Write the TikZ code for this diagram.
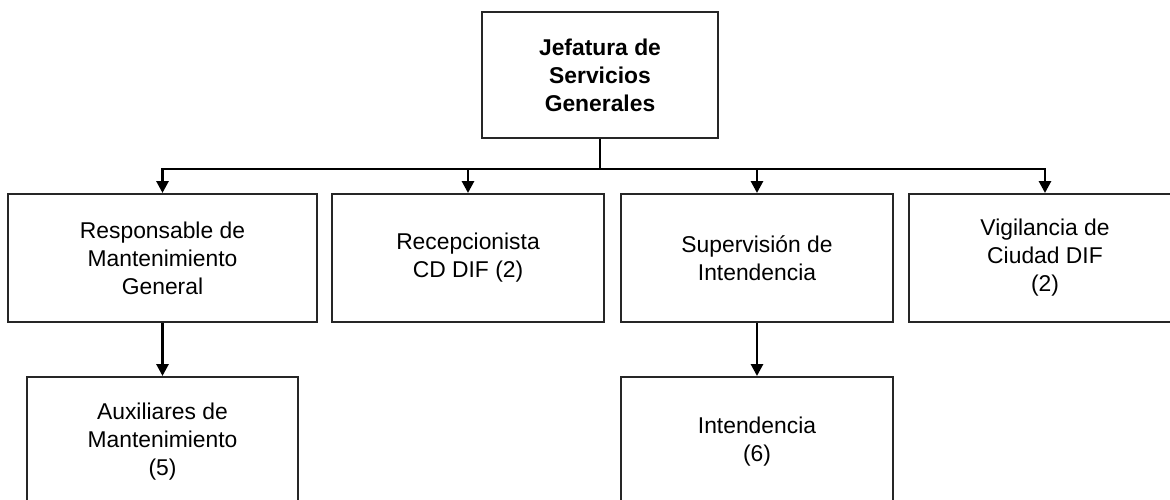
\documentclass[tikz,border=0pt]{standalone}
\usepackage{fontspec}
\setmainfont{Liberation Sans}
\usepackage{tikz}
\usetikzlibrary{arrows.meta}
\newcommand{\orgfont}{\fontsize{13}{15.9}\selectfont}
\tikzset{
  jefe/.style={draw=black!85, line width=1.1pt, fill=white, minimum width=4.72cm, minimum height=2.52cm, align=center, font=\orgfont\bfseries},
  puesto/.style={draw=black!85, line width=1.1pt, fill=white, minimum width=5.44cm, minimum height=2.56cm, align=center, font=\orgfont},
  flow/.style={-{Triangle[length=2.4mm, width=2.4mm]}, line width=1.6pt, black}
}

\begin{document}
\begin{tikzpicture}[x=1cm,y=1cm]
  \useasboundingbox (0,0) rectangle (23.4,10);
  \clip (0,0) rectangle (23.4,10);

  \node[jefe] (jsg) at (12.0,8.5) {Jefatura de\\Servicios\\Generales};

  \node[puesto, minimum width=6.18cm] (resp) at (3.25,4.84) {Responsable de\\Mantenimiento\\General};
  \node[puesto] (recep) at (9.36,4.84) {Recepcionista\\CD DIF (2)};
  \node[puesto] (superv) at (15.14,4.84) {Supervisión de\\Intendencia};
  \node[puesto] (vigil) at (20.9,4.84) {Vigilancia de\\Ciudad DIF\\(2)};

  \node[puesto, minimum width=5.42cm, minimum height=2.6cm] (aux) at (3.25,1.16) {Auxiliares de\\Mantenimiento\\(5)};
  \node[puesto, minimum height=2.6cm] (inten) at (15.14,1.16) {Intendencia\\(6)};

  \coordinate (bar) at (12.0,6.62);
  \foreach \n in {resp,recep,superv,vigil}
    \draw[flow] (jsg.south) -- (bar) -| (\n.north);

  \draw[flow] (resp.south) -- (aux.north);
  \draw[flow] (superv.south) -- (inten.north);
\end{tikzpicture}
\end{document}
